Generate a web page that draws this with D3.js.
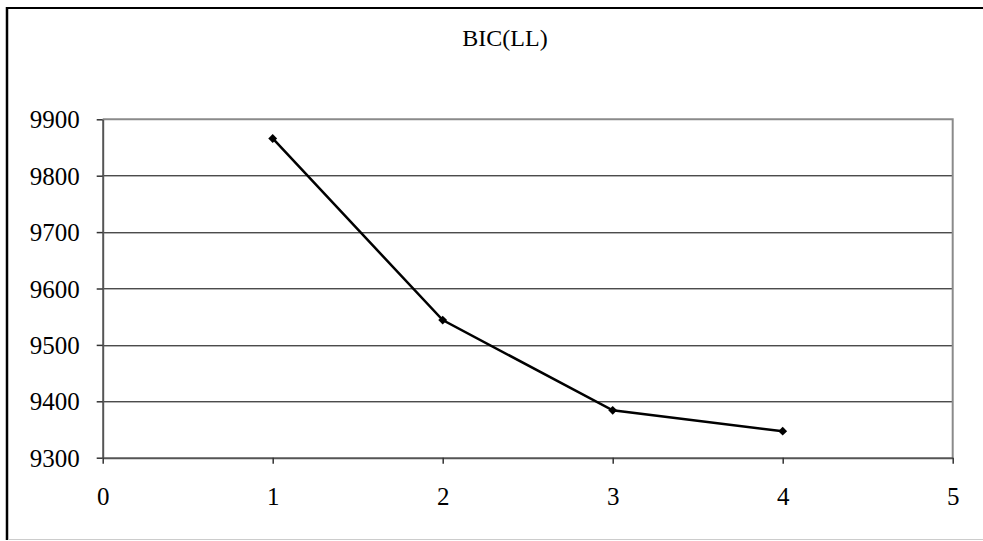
<!DOCTYPE html>
<html>
<head>
<meta charset="utf-8">
<script src="https://cdn.jsdelivr.net/npm/d3@7"></script>
<style>
  body { margin: 0; background: #fff; }
  text { font-family: "Liberation Serif", "Times New Roman", serif; }
</style>
</head>
<body>
<div id="wrapper"></div>
<script>
// chart data
const title = "BIC(LL)"
const xValues = [1, 2, 3, 4]
const bicValues = [9866, 9544, 9384, 9347]
const xTicks = [0, 1, 2, 3, 4, 5]
const yTicks = [9300, 9400, 9500, 9600, 9700, 9800, 9900]

function drawChart() {
  const dms = {
    width: 983,
    height: 541,
    margin: { top: 119.3, right: 30.3, bottom: 83.3, left: 102.7 },
  }
  dms.boundedWidth = dms.width - dms.margin.left - dms.margin.right
  dms.boundedHeight = dms.height - dms.margin.top - dms.margin.bottom

  const svg = d3.select("#wrapper")
    .append("svg")
    .attr("width", dms.width)
    .attr("height", dms.height)

  // outer frame (right edge is cut off in the original)
  svg.append("line")
    .attr("x1", 7).attr("x2", 7).attr("y1", 7).attr("y2", 540)
    .attr("stroke", "#000").attr("stroke-width", 2.5)
  svg.append("line")
    .attr("x1", 6).attr("x2", 983).attr("y1", 8).attr("y2", 8)
    .attr("stroke", "#000").attr("stroke-width", 2)
  svg.append("line")
    .attr("x1", 8).attr("x2", 983).attr("y1", 539.5).attr("y2", 539.5)
    .attr("stroke", "#ccc").attr("stroke-width", 1)

  svg.append("text")
    .attr("x", 505)
    .attr("y", 46)
    .attr("text-anchor", "middle")
    .attr("font-size", 24)
    .text(title)

  const bounds = svg.append("g")
    .attr("transform", `translate(${dms.margin.left},${dms.margin.top})`)

  const xScale = d3.scaleLinear()
    .domain([0, 5])
    .range([0, dms.boundedWidth])

  const yScale = d3.scaleLinear()
    .domain([9300, 9900])
    .range([dms.boundedHeight, 0])

  // gridlines
  bounds.append("g")
    .selectAll("line")
    .data(yTicks.filter(d => d > 9300 && d < 9900))
    .join("line")
    .attr("x1", 0)
    .attr("x2", dms.boundedWidth)
    .attr("y1", d => Math.round(yScale(d)) + 0.5)
    .attr("y2", d => Math.round(yScale(d)) + 0.5)
    .attr("stroke", "#000")
    .attr("stroke-width", 1)

  // plot border top / right
  bounds.append("path")
    .attr("d", `M0,0H${dms.boundedWidth}V${dms.boundedHeight}`)
    .attr("fill", "none")
    .attr("stroke", "#8a8a8a")
    .attr("stroke-width", 2)

  const yAxis = bounds.append("g")
    .call(d3.axisLeft(yScale).tickValues(yTicks).tickFormat(d3.format("d")).tickSize(6).tickSizeOuter(0).tickPadding(17))
  yAxis.select(".domain").attr("stroke", "#555").attr("stroke-width", 2)
  yAxis.selectAll(".tick line").attr("stroke", "#333").attr("stroke-width", 1.5)
  yAxis.selectAll("text")
    .attr("font-size", 25)
    .attr("font-family", "Liberation Serif, Times New Roman, serif")
    .attr("fill", "#000")
    .attr("dy", "0.34em")

  const xAxis = bounds.append("g")
    .attr("transform", `translate(0,${dms.boundedHeight})`)
    .call(d3.axisBottom(xScale).tickValues(xTicks).tickFormat(d3.format("d")).tickSize(6).tickSizeOuter(0).tickPadding(24))
  xAxis.select(".domain").attr("stroke", "#555").attr("stroke-width", 2)
  xAxis.selectAll(".tick line").attr("stroke", "#333").attr("stroke-width", 1.5)
  xAxis.selectAll("text")
    .attr("font-size", 25)
    .attr("font-family", "Liberation Serif, Times New Roman, serif")
    .attr("fill", "#000")

  const points = xValues.map((x, i) => ({ x: x, y: bicValues[i] }))

  const lineGen = d3.line()
    .x(d => xScale(d.x))
    .y(d => yScale(d.y))

  bounds.append("path")
    .datum(points)
    .attr("d", lineGen)
    .attr("fill", "none")
    .attr("stroke", "#000")
    .attr("stroke-width", 2.5)

  bounds.append("g")
    .selectAll("path")
    .data(points)
    .join("path")
    .attr("d", d3.symbol(d3.symbolDiamond2, 50))
    .attr("transform", d => `translate(${xScale(d.x)},${yScale(d.y)})`)
    .attr("fill", "#000")
}

drawChart()
</script>
</body>
</html>
